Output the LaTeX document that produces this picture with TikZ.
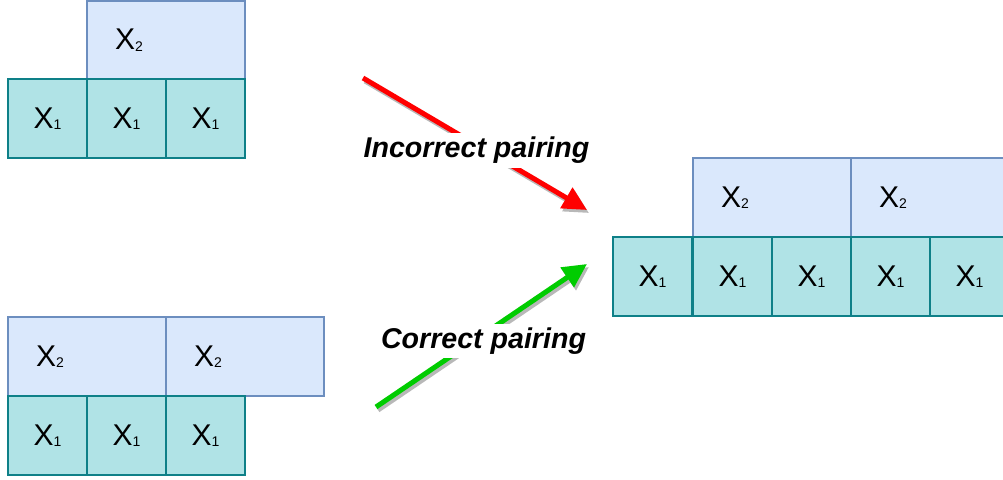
\documentclass[tikz,border=0pt]{standalone}
\usepackage{fontspec}
\setmainfont{Liberation Sans}
\usetikzlibrary{arrows.meta}

\definecolor{xonefill}{HTML}{B0E3E6}
\definecolor{xonedraw}{HTML}{0E8088}
\definecolor{xtwofill}{HTML}{DAE8FC}
\definecolor{xtwodraw}{HTML}{6C8EBF}
\definecolor{shadowgray}{HTML}{B8B8B8}
\definecolor{arrowred}{HTML}{FF0000}
\definecolor{arrowgreen}{HTML}{00CC00}

% variable name with a small, slightly lowered index
\newcommand{\xvar}[1]{X\raisebox{-1.5pt}{\fontsize{14}{14}\selectfont #1}}

\tikzset{
  cellone/.style={draw=xonedraw, fill=xonefill, line width=1.2pt,
    minimum width=79pt, minimum height=79pt, inner sep=0pt, outer sep=0pt,
    anchor=north west, font=\fontsize{30}{30}\selectfont},
  celltwo/.style={draw=xtwodraw, fill=xtwofill, line width=1.2pt,
    text width=102pt, inner xsep=28pt, inner ysep=0pt, align=left,
    minimum height=79pt, outer sep=0pt,
    anchor=north west, font=\fontsize{30}{30}\selectfont},
  pairarrow/.style={line width=5pt, -{Triangle[length=24pt,width=23pt]}},
  pairshadow/.style={pairarrow, draw=shadowgray, transform canvas={shift={(2pt,-3pt)}}},
  pairlabel/.style={fill=white, inner xsep=2pt, inner ysep=4pt,
    font=\fontsize{28.6}{28.6}\selectfont\bfseries\itshape}
}

\begin{document}
\begin{tikzpicture}[x=1pt, y=-1pt]
\useasboundingbox (0,0) rectangle (1003,479);
\clip (0,0) rectangle (1003,479);

% upper left: one X2 block over three X1 cells
\node[celltwo, minimum height=78pt] (tlb) at (87,1) {\xvar{2}};
\node[cellone] (tla) at (8,79) {\xvar{1}};
\node[cellone] (tlc) at (87,79) {\xvar{1}};
\node[cellone] (tld) at (166,79) {\xvar{1}};

% lower left: two X2 blocks over three X1 cells
\node[celltwo] (bla) at (8,317) {\xvar{2}};
\node[celltwo] (blb) at (166,317) {\xvar{2}};
\node[cellone] (blc) at (8,396) {\xvar{1}};
\node[cellone] (bld) at (87,396) {\xvar{1}};
\node[cellone] (ble) at (166,396) {\xvar{1}};

% right: paired result
\node[celltwo] (rta) at (693,158) {\xvar{2}};
\node[celltwo] (rtb) at (851,158) {\xvar{2}};
\node[cellone] (rba) at (613,237) {\xvar{1}};
\node[cellone] (rbb) at (693,237) {\xvar{1}};
\node[cellone] (rbc) at (772,237) {\xvar{1}};
\node[cellone] (rbd) at (851,237) {\xvar{1}};
\node[cellone] (rbe) at (930,237) {\xvar{1}};

% arrow end points
\coordinate (redstart) at (363,78);
\coordinate (redend) at (587,210);
\coordinate (greenstart) at (376,407);
\coordinate (greenend) at (587,264);

\draw[pairshadow] (redstart) -- (redend);
\draw[pairshadow] (greenstart) -- (greenend);
\draw[pairarrow, draw=arrowred] (redstart) -- (redend);
\draw[pairarrow, draw=arrowgreen] (greenstart) -- (greenend);

\node[pairlabel] (wrong) at (476.5,150.5) {Incorrect pairing};
\node[pairlabel] (right) at (483.5,341) {Correct pairing};
\end{tikzpicture}
\end{document}
